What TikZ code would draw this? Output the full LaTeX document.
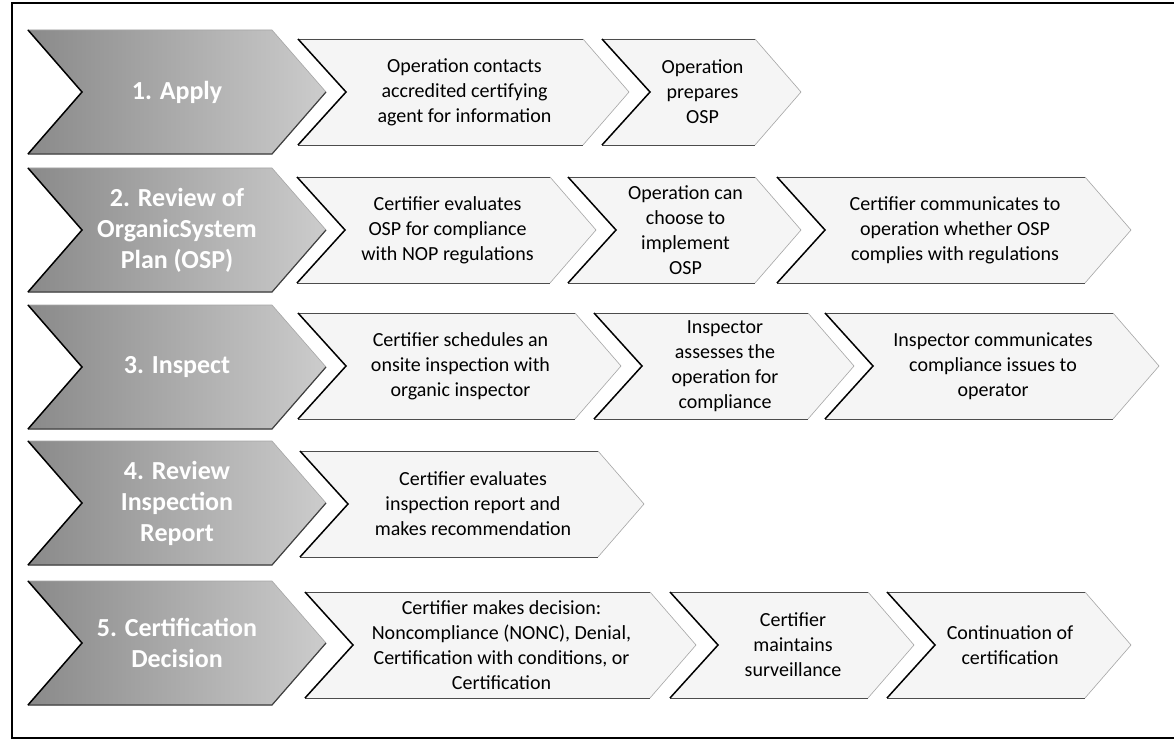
\documentclass[tikz,border=0pt]{standalone}
\usepackage{fontspec}
\setmainfont{Carlito}

\newcommand{\greychev}[3]{%
  \path[greyfill] (28,#2-62) -- (272,#2-62) -- (326,#2) -- (272,#2+62) -- (28,#2+62) -- (82,#2) -- cycle;
  \draw[greyedge] (28,#2+62) -- (272,#2+62) -- (326,#2);
  \draw[notchline] (28,#2-62) -- (82,#2) -- (28,#2+62);
  \node[labeltext] (#1) at (177,#2) {#3};
}
\newcommand{\whitechev}[5]{%
  \path[whitefill] (#2,#4-53) -- (#3,#4-53) -- (#3+46,#4) -- (#3,#4+53) -- (#2,#4+53) -- (#2+48,#4) -- cycle;
  \draw[pointline] (#3,#4-53) -- (#3+46,#4) -- (#3,#4+53);
  \draw[edgeline] (#2,#4-53) -- (#3,#4-53) (#2,#4+53) -- (#3,#4+53);
  \draw[notchline] (#2,#4-53) -- (#2+48,#4) -- (#2,#4+53);
  \node[steptext] (#1) at ({(#2+48+#3)/2},#4) {#5};
}

\begin{document}
\begin{tikzpicture}[x=1pt,y=-1pt]
\tikzset{greyfill/.style = {left color=black!46, right color=black!20, draw=black!35, line width=0.6pt}}
\tikzset{greyedge/.style = {draw=black!75, line width=1.2pt}}
\tikzset{whitefill/.style = {fill=black!4}}
\tikzset{pointline/.style = {draw=black!35, line width=0.6pt}}
\tikzset{edgeline/.style = {draw=black!70, line width=0.9pt}}
\tikzset{notchline/.style = {draw=black, line width=1.5pt}}
\tikzset{steptext/.style = {align=center, text=black, font=\fontsize{20}{25}\selectfont}}
\tikzset{labeltext/.style = {align=center, text=white, font=\fontsize{26}{31}\selectfont\bfseries}}
\useasboundingbox (0,0) rectangle (1174,754);
\fill[white] (0,0) rectangle (1174,754);
\draw[line width=2pt] (12,3) rectangle (1190,738);

\greychev{apply}{92}{1. Apply}
\whitechev{contact}{298}{583}{92}{Operation contacts\\accredited certifying\\agent for information}
\whitechev{prepare}{602}{755}{92}{Operation\\prepares\\OSP}

\greychev{review}{230}{2. Review of\\OrganicSystem\\Plan (OSP)}
\whitechev{evaluate}{297}{550}{230}{Certifier evaluates\\OSP for compliance\\with NOP regulations}
\whitechev{implement}{568}{755}{230}{Operation can\\choose to\\implement\\OSP}
\whitechev{inform}{777}{1085}{230}{Certifier communicates to\\operation whether OSP\\complies with regulations}

\greychev{inspect}{367}{3. Inspect}
\whitechev{schedule}{298}{575}{366}{Certifier schedules an\\onsite inspection with\\organic inspector}
\whitechev{assess}{594}{808}{366}{Inspector\\assesses the\\operation for\\compliance}
\whitechev{issues}{825}{1113}{366}{Inspector communicates\\compliance issues to\\operator}

\greychev{report}{503}{4. Review\\Inspection\\Report}
\whitechev{recommend}{300}{598}{504}{Certifier evaluates\\inspection report and\\makes recommendation}

\greychev{decision}{643}{5. Certification\\Decision}
\whitechev{decide}{305}{650}{645}{Certifier makes decision:\\Noncompliance (NONC), Denial,\\Certification with conditions, or\\Certification}
\whitechev{surveil}{670}{868}{645}{Certifier\\maintains\\surveillance}
\whitechev{continue}{887}{1085}{645}{Continuation of\\certification}
\end{tikzpicture}
\end{document}
